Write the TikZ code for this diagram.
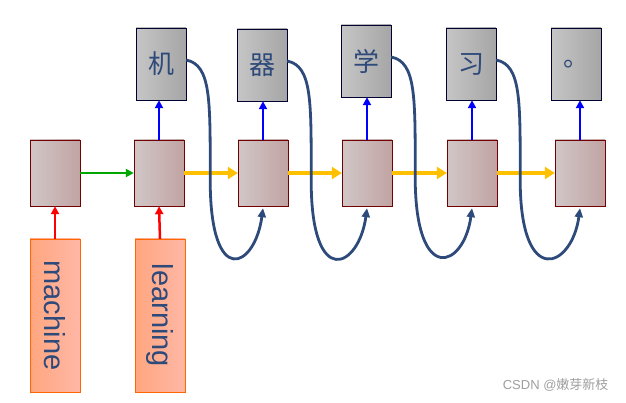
\documentclass[tikz,border=0pt]{standalone}
\usepackage{fontspec}
\setmainfont{Liberation Sans}
\newfontfamily\cjk{Noto Sans CJK SC}
\usetikzlibrary{arrows.meta}
\definecolor{txtb}{HTML}{2E4A7A}
\definecolor{yl}{HTML}{FFC000}
\begin{document}
\begin{tikzpicture}[x=1pt,y=-1pt,
 hid/.style={draw=red!45!black,left color=red!10!gray!40,right color=red!20!gray!60,minimum width=50pt,minimum height=66pt,inner sep=0pt},
 outbox/.style={draw=black!80!blue,left color=gray!45,right color=gray!70,minimum width=50pt,minimum height=72pt,inner sep=0pt,font=\cjk\fontsize{26}{26}\selectfont,text=txtb},
 inp/.style={draw=orange!80!red,left color=orange!60!red!50,right color=orange!40!red!35,minimum width=50pt,minimum height=153pt,inner sep=0pt},
 itxt/.style={rotate=-90,font=\fontsize{29}{29}\selectfont,text=txtb},
 redarr/.style={draw=red,line width=2.5pt,-{Triangle[length=8pt,width=8pt]}},
 bluarr/.style={draw=blue,line width=2.5pt,-{Triangle[length=8pt,width=8pt]}},
 grnarr/.style={draw=green!65!black,line width=2.5pt,-{Triangle[length=8pt,width=8pt]}},
 yelarr/.style={draw=yl,line width=4pt,-{Triangle[length=10pt,width=12pt]}},
 crvarr/.style={draw=txtb,line width=2.8pt,-{Triangle[length=9pt,width=8pt]}}]
\useasboundingbox (0,0) rectangle (626,403);
\node[hid] (h1) at (55,173) {};
\node[hid] (h2) at (159,173) {};
\node[hid] (h3) at (263,173) {};
\node[hid] (h4) at (367,173) {};
\node[hid] (h5) at (472,173) {};
\node[hid] (h6) at (580,173) {};
\node[outbox] (o1) at (161,64) {机};
\node[outbox] (o2) at (262,65) {器};
\node[outbox] (o3) at (366,61) {学};
\node[outbox] (o4) at (471,64) {习};
\node[outbox] (o5) at (576,64) {。};
\node[inp] (i1) at (55,315.5) {};
\node[itxt] at (i1) {machine};
\node[inp] (i2) at (160,315.5) {};
\node[itxt] at (i2) {learning};
\draw[redarr] (i1.north) -- (h1.south);
\draw[redarr] (i2.north) -- (h2.south);
\draw[grnarr] (h1.east) -- (h2.west);
\draw[yelarr] (h2.east) -- (h3.west);
\draw[yelarr] (h3.east) -- (h4.west);
\draw[yelarr] (h4.east) -- (h5.west);
\draw[yelarr] (h5.east) -- (h6.west);
\foreach \h/\o in {h2/o1,h3/o2,h4/o3,h5/o4,h6/o5}{
 \draw[bluarr] (\h.north) -- (\h.north |- \o.south);
}
\foreach \o/\h in {o1/h3,o2/h4,o3/h5,o4/h6}{
 \draw[crvarr] ([yshift=4pt]\o.east) .. controls +(25,5) and +(0,-80) .. ++(24,120)
   .. controls +(0,110) and +(-8,60) .. ([yshift=-2pt]\h.south);
}
\node[text=gray!75,font=\fontsize{13}{13}\selectfont,anchor=east] (wm) at (612,385) {CSDN @{\cjk 嫩芽新枝}};
\end{tikzpicture}
\end{document}
